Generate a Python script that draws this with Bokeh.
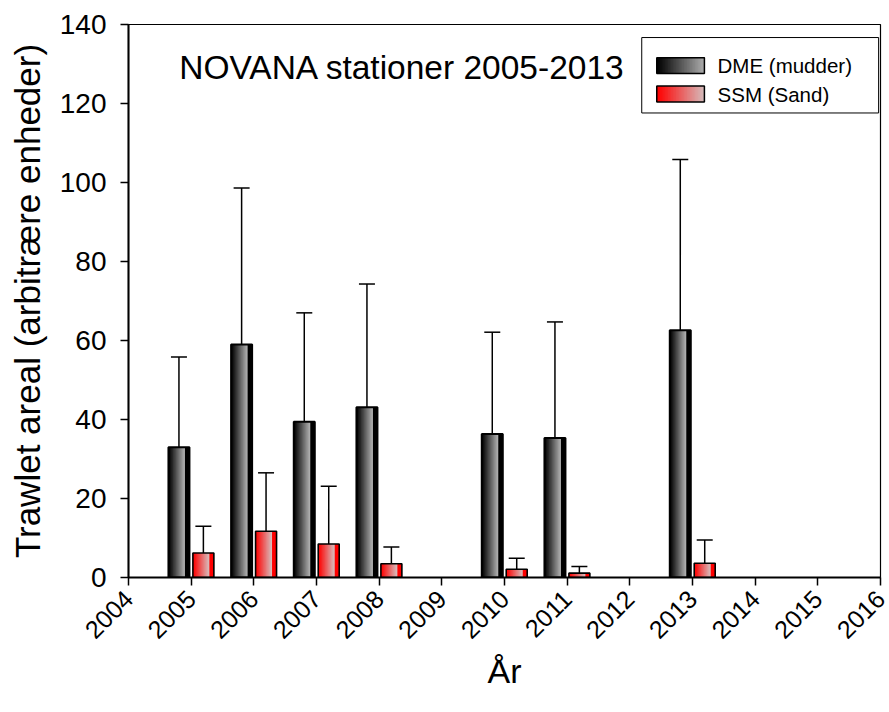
import math

from bokeh.embed import file_html
from bokeh.models import ColumnDataSource, FixedTicker, Label, Range1d, TeeHead, Whisker
from bokeh.plotting import figure
from bokeh.resources import INLINE

# Survey years with trawl data
years = [2005, 2006, 2007, 2008, 2010, 2011, 2013]

# DME stations (mud): mean trawled area and standard deviation
dme_mean = [33.0, 59.0, 39.4, 43.1, 36.3, 35.3, 62.6]
dme_sd = [22.8, 39.6, 27.6, 31.2, 25.8, 29.4, 43.2]

# SSM stations (sand): mean trawled area and standard deviation
ssm_mean = [6.2, 11.7, 8.5, 3.5, 2.1, 1.1, 3.6]
ssm_sd = [6.8, 14.8, 14.6, 4.2, 2.8, 1.7, 5.9]

x_ticks = list(range(2004, 2017))
y_ticks = [0, 20, 40, 60, 80, 100, 120, 140]

series_names = ["DME (mudder)", "SSM (Sand)"]
title_text = "NOVANA stationer 2005-2013"

FONT = "Liberation Sans"
BAR_W = 0.335
OFFSET = 0.195


def hex_to_rgb(h):
    h = h.lstrip("#")
    return tuple(int(h[i:i + 2], 16) for i in (0, 2, 4))


def mix(c0, c1, t):
    a, b = hex_to_rgb(c0), hex_to_rgb(c1)
    return "#%02x%02x%02x" % tuple(round(a[k] + (b[k] - a[k]) * t) for k in range(3))


def gradient_slices(centers, bottoms, tops, width, c0, c1, split=1.0, n=28):
    """Cut each bar into vertical strips shaded from c0 to c1; past `split` the
    strip returns to c0 (the shaded-cylinder look of the bars)."""
    out = dict(left=[], right=[], top=[], bottom=[], color=[])
    for cx, b, t in zip(centers, bottoms, tops):
        x0 = cx - width / 2
        for i in range(n):
            f = i / n
            col = mix(c0, c1, f / split) if f < split else c0
            out["left"].append(x0 + f * width)
            out["right"].append(x0 + width)
            out["bottom"].append(b)
            out["top"].append(t)
            out["color"].append(col)
    return out


p = figure(
    width=889, height=712,
    x_range=Range1d(2004, 2016), y_range=Range1d(0, 140),
    output_backend="svg", toolbar_location=None,
    min_border_left=128, min_border_right=9, min_border_top=24, min_border_bottom=135,
)
p.grid.visible = False
p.outline_line_color = "black"
p.outline_line_width = 1.2
p.background_fill_color = "white"
p.border_fill_color = "white"

series = [
    (dme_mean, dme_sd, -OFFSET, "#000000", "#b8b8b8", 2.0),
    (ssm_mean, ssm_sd, +OFFSET, "#ff0000", "#d6c4c4", 1.6),
]

for means, sds, off, c0, c1, lw in series:
    centers = [y + off for y in years]
    zeros = [0] * len(means)
    shade = gradient_slices(centers, zeros, means, BAR_W, c0, c1, split=0.78)
    p.quad(left="left", right="right", top="top", bottom="bottom", fill_color="color",
           line_color=None, source=ColumnDataSource(shade))
    p.quad(left=[c - BAR_W / 2 for c in centers], right=[c + BAR_W / 2 for c in centers],
           bottom=zeros, top=means, fill_color=None, line_color="black", line_width=lw)
    err = ColumnDataSource(dict(x=centers, lower=means, upper=[m + s for m, s in zip(means, sds)]))
    p.add_layout(Whisker(source=err, base="x", lower="lower", upper="upper",
                         upper_head=TeeHead(size=16, line_width=1.5, line_color="black"),
                         lower_head=None, line_width=1.5, line_color="black", level="glyph"))

# Legend box, drawn in data coordinates in the upper right corner
p.quad(left=[2012.19], right=[2015.97], bottom=[117.6], top=[136.7],
       fill_color="white", line_color="black", line_width=1)
legend_rows = [(129.6, "#000000", "#b0b0b0"), (122.4, "#ff0000", "#d4c0c0")]
for (yc, c0, c1), name in zip(legend_rows, series_names):
    sw = gradient_slices([2012.81], [yc - 2.0], [yc + 2.0], 0.76, c0, c1, split=1.0, n=30)
    p.quad(left="left", right="right", top="top", bottom="bottom", fill_color="color",
           line_color=None, source=ColumnDataSource(sw))
    p.quad(left=[2012.43], right=[2013.19], bottom=[yc - 2.0], top=[yc + 2.0],
           fill_color=None, line_color="black", line_width=1.5)
    p.add_layout(Label(x=2013.40, y=yc, text=name, text_font=FONT, text_font_size="20.5px",
                       text_baseline="middle", text_align="left", text_color="black"))

p.add_layout(Label(x=2008.37, y=129.1, text=title_text, text_font=FONT, text_font_size="33.5px",
                   text_baseline="middle", text_align="center", text_color="black"))

for ax in (p.xaxis[0], p.yaxis[0]):
    ax.axis_line_width = 2
    ax.axis_line_color = "black"
    ax.major_tick_line_width = 1.5
    ax.major_tick_out = 8
    ax.major_tick_in = 0
    ax.minor_tick_out = 0
    ax.minor_tick_in = 0
    ax.major_label_text_font = FONT
    ax.major_label_text_font_size = "28px"
    ax.major_label_text_color = "black"
    ax.axis_label_text_font = FONT
    ax.axis_label_text_font_style = "normal"
    ax.axis_label_text_color = "black"

p.xaxis.ticker = FixedTicker(ticks=x_ticks)
p.xaxis.major_label_orientation = math.radians(45)
p.xaxis.major_label_text_font_size = "25px"
p.xaxis.major_label_standoff = 9
p.xaxis.axis_label = "År"
p.xaxis.axis_label_text_font_size = "34px"
p.xaxis.axis_label_standoff = 2

p.yaxis.ticker = FixedTicker(ticks=y_ticks)
p.yaxis.major_label_standoff = 14
p.yaxis.axis_label = "Trawlet areal (arbitrære enheder)"
p.yaxis.axis_label_text_font_size = "35px"
p.yaxis.axis_label_standoff = 10

open("out.html", "w").write(file_html(p, INLINE))
